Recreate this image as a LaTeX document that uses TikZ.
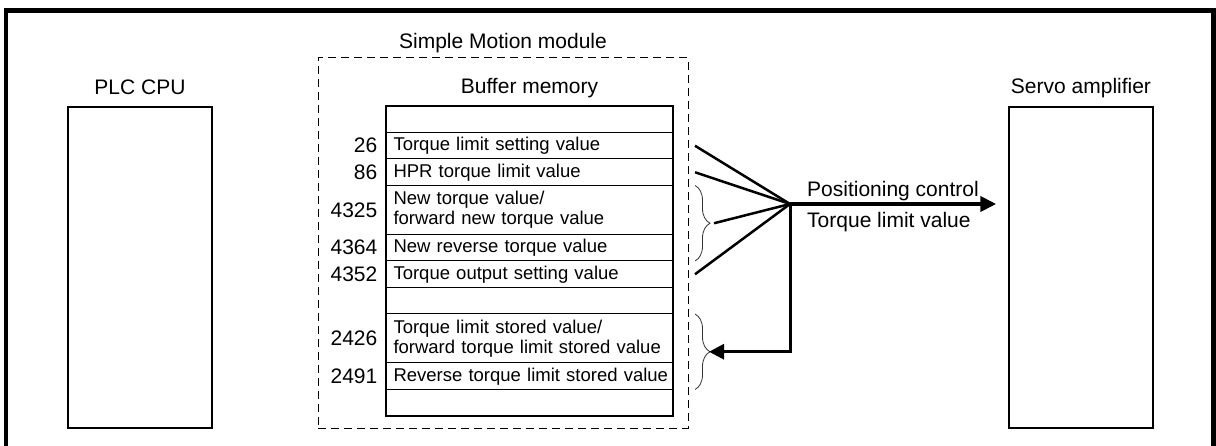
\documentclass[tikz,border=0pt]{standalone}
\usepackage{fontspec}
\setmainfont{Liberation Sans}
\usetikzlibrary{positioning, arrows.meta, calc, decorations.pathreplacing}

\begin{document}
\begin{tikzpicture}[
    x=1pt, y=-1pt,
    every node/.style={font=\fontsize{21}{24}\selectfont},
    unit/.style={draw, line width=1.5pt, minimum width=144pt, minimum height=321pt,
                 inner sep=0pt},
    cell/.style={draw, line width=1pt, outer sep=0pt, inner xsep=7.5pt, inner ysep=0pt,
                 text width=272pt, align=left, minimum height=26.5pt,
                 font=\fontsize{18.5}{20}\selectfont},
    dbl/.style={cell, minimum height=49pt},
    addr/.style={inner sep=0pt, font=\fontsize{21}{24}\selectfont},
    title/.style={anchor=base, inner sep=0pt},
    fan/.style={line width=2.5pt},
    brc/.style={decorate, decoration={brace, amplitude=15pt}, line width=0.8pt, black!80},
    arr/.style={-{Triangle[length=16pt, width=15pt]}, line width=4pt},
    back/.style={-{Triangle[length=15pt, width=15pt]}, line width=3pt},
  ]
    \useasboundingbox (0,0) rectangle (1216,446);
    \draw[line width=4.5pt] (6.2,446) -- (6.2,10.5) -- (1213.7,10.5) -- (1213.7,446);

    \node[unit] (plc)   at (140,267.5)  {};
    \node[unit] (servo) at (1081,267.5) {};
    \node[title, above=12pt of plc, anchor=base]   {PLC CPU};
    \node[title, above=13pt of servo, anchor=base] {Servo amplifier};

    \node[draw, line width=1pt, dash pattern=on 8pt off 5pt, minimum width=370pt,
          minimum height=370pt] (mod) at (503,243) {};
    \node[title, above=9pt of mod, anchor=base] {Simple Motion module};

    \node[cell, anchor=north] (r0) at (529.5,106) {};
    \node[cell, below=0pt of r0] (r1) {Torque limit setting value};
    \node[cell, below=0pt of r1] (r2) {HPR torque limit value};
    \node[dbl,  below=0pt of r2] (r3) {New torque value/\\forward new torque value};
    \node[cell, below=0pt of r3] (r4) {New reverse torque value};
    \node[cell, below=0pt of r4] (r5) {Torque output setting value};
    \node[cell, below=0pt of r5] (r6) {};
    \node[dbl,  below=0pt of r6] (r7) {Torque limit stored value/\\\mbox{forward torque limit stored value}};
    \node[cell, below=0pt of r7] (r8) {\mbox{Reverse torque limit stored value}};
    \node[cell, below=0pt of r8] (r9) {};
    \draw[line width=1.5pt] (r0.north west) rectangle (r9.south east);
    \node[title, above=12pt of r0, anchor=base] {Buffer memory};

    \node[addr, left=8.5pt of r1] {26};
    \node[addr, left=8.5pt of r2] {86};
    \node[addr, left=8.5pt of r3] {4325};
    \node[addr, left=8.5pt of r4] {4364};
    \node[addr, left=8.5pt of r5] {4352};
    \node[addr, left=8.5pt of r7] {2426};
    \node[addr, left=8.5pt of r8] {2491};

    \draw[brc] ($(r3.north east)+(22,0)$) -- ($(r4.south east)+(22,0)$);
    \draw[brc] ($(r7.north east)+(22,0)$) -- ($(r8.south east)+(22,0)$);

    \coordinate (hub) at (790,204);
    \coordinate (s1) at ($(r1.east)+(22,0)$);
    \coordinate (s2) at ($(r2.east)+(22,0)$);
    \coordinate (s3) at ($(r3.north east)!0.5!(r4.south east)+(41,0)$);
    \coordinate (s5) at ($(r5.east)+(22,0)$);
    \coordinate (tip) at ($(r7.north east)!0.5!(r8.south east)+(36,0)$);
    \coordinate (out) at ($(hub -| servo.west)+(-12,0)$);

    \draw[fan] (s1) -- (hub);
    \draw[fan] (s2) -- (hub);
    \draw[fan] (s3) -- (hub);
    \draw[fan] (s5) -- (hub);
    \draw[arr] (hub) -- (out);
    \draw[back] (hub) |- (tip);

    \node[anchor=base west, inner sep=0pt] at ($(hub)+(17,-7)$) {Positioning control};
    \node[anchor=base west, inner sep=0pt] at ($(hub)+(17,24)$) {Torque limit value};
  \end{tikzpicture}
\end{document}
